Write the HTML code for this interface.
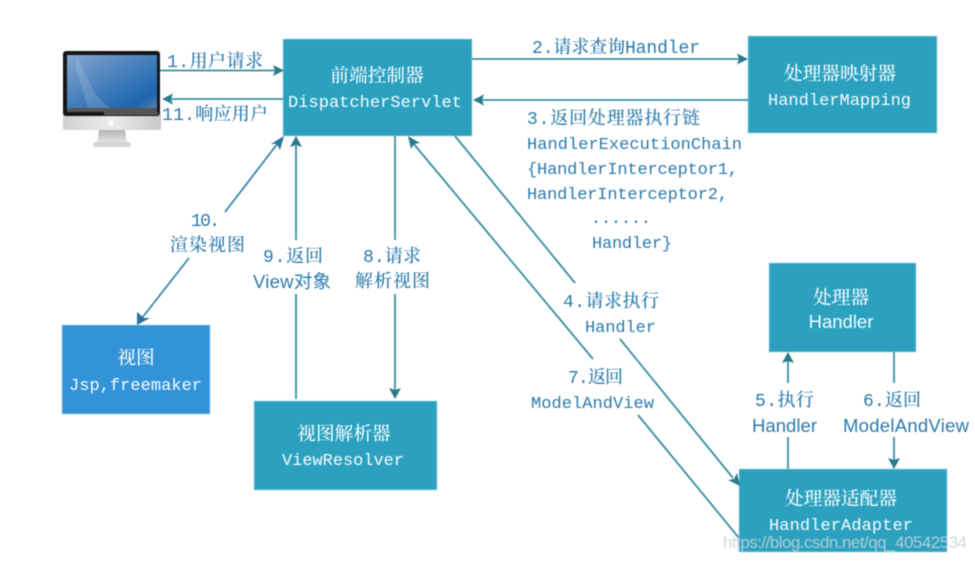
<!DOCTYPE html>
<html><head><meta charset="utf-8">
<style>
html,body{margin:0;padding:0;background:#fff;width:975px;height:562px;overflow:hidden}
svg{display:block;filter:blur(.55px)}
text{font-family:"Liberation Mono","Noto Serif CJK SC",monospace;font-size:17px}
.c{font-family:"Liberation Mono","Noto Serif CJK SC",serif;font-size:18px;font-weight:500}
.s{font-family:"Liberation Sans","Noto Sans CJK SC",sans-serif;font-size:18.5px}
.l{fill:#2a7aab}
.w{fill:#f6fcfe}
.ln{stroke:#3a8f9f;stroke-width:1.8;fill:none}
.b{fill:#2ba1bf;stroke:#a6d9e6;stroke-width:.8}
.ah{fill:#2a7a8c}
.ab{fill:#2a72a0}
</style></head><body>
<svg width="975" height="562" viewBox="0 0 975 562" xmlns="http://www.w3.org/2000/svg">
<defs>
<linearGradient id="scr" x1="0" y1="0" x2="1" y2="1"><stop offset="0" stop-color="#86a6cf"/><stop offset=".45" stop-color="#4b82bd"/><stop offset=".85" stop-color="#1a66b0"/><stop offset="1" stop-color="#5a7fa6"/></linearGradient>
<linearGradient id="sil" x1="0" y1="0" x2="1" y2="0"><stop offset="0" stop-color="#cfcfcf"/><stop offset=".5" stop-color="#ececec"/><stop offset="1" stop-color="#c8c8c8"/></linearGradient>
<linearGradient id="st" x1="0" y1="0" x2="0" y2="1"><stop offset="0" stop-color="#b5b5b5"/><stop offset="1" stop-color="#e4e4e4"/></linearGradient>
</defs>

<!-- monitor -->
<rect x="63" y="112" width="98" height="18" rx="2" fill="url(#sil)"/>
<rect x="63" y="51" width="97" height="65" rx="3" fill="#161616"/>
<rect x="67" y="55" width="90" height="53" fill="url(#scr)"/>
<rect x="67" y="108" width="90" height="4" fill="#555"/>
<path d="M104 112H158V115H104Z" fill="#555"/>
<path d="M76 55 L96 95 L110 108 L88 108 L76 70 Z" fill="#fff" opacity=".14"/>
<circle cx="111" cy="123" r="2.5" fill="#fff"/>
<path d="M99 130 H125 L127 143 H97 Z" fill="url(#st)"/>
<rect x="93" y="142" width="38" height="5" rx="2.5" fill="#d4d4d4"/>

<!-- boxes -->
<rect class="b" x="283" y="39" width="189" height="97"/>
<rect class="b" x="748" y="36" width="189" height="97"/>
<rect class="b" x="769" y="263" width="147" height="89"/>
<rect class="b" x="739" y="469" width="208" height="83"/>
<rect x="62" y="325" width="148" height="89" fill="#3393d8" stroke="#a6d3f0" stroke-width=".8"/>
<rect class="b" x="254" y="401" width="183" height="89"/>

<!-- connectors -->
<path class="ln" d="M160 70.500H276"/><path class="ah" d="M284 70.500 L273 65 L275 70.500 L273 76 Z"/>
<path class="ln" d="M283 99H170"/><path class="ah" d="M162 99 L173 93.500 L171 99 L173 104.500 Z"/>
<path class="ln" d="M472 59H740"/><path class="ah" d="M748 59 L737 53.500 L739 59 L737 64.500 Z"/>
<path class="ln" d="M748 100H481"/><path class="ah" d="M473 100 L484 94.500 L482 100 L484 105.500 Z"/>

<path d="M225 212 L278 143" stroke="#3a85aa" stroke-width="1.8" fill="none"/><path class="ab" d="M284 136 L271 144 L277 144 L280 150 Z"/>
<path d="M189 258 L142 318" stroke="#3a85aa" stroke-width="1.8" fill="none"/><path class="ab" d="M137 325 L150 318 L144 318 L137 312 Z"/>

<path class="ln" d="M296 145V240M296 294V399"/><path class="ah" d="M296 136 L290 147 L296 145 L302 147 Z"/>
<path class="ln" d="M395 136V240M395 294V391"/><path class="ah" d="M395 399 L389 388 L395 390 L401 388 Z"/>

<path class="ln" d="M413 143 L593 359M638 415 L739 538"/><path class="ah" d="M408 136 L411 149 L414 144 L420 143 Z"/>
<path class="ln" d="M455 136 L575 283M620 339 L733 478"/><path class="ah" d="M740 486 L737 473 L734 479 L728 480 Z"/>

<path class="ln" d="M788 469V437M788 383V361"/><path class="ah" d="M788 352 L782 363 L788 361 L794 363 Z"/>
<path class="ln" d="M894 352V383M894 437V460"/><path class="ah" d="M894 469 L888 458 L894 460 L900 458 Z"/>

<!-- box text -->
<text class="w c" x="377" y="82" text-anchor="middle" style="font-size:18.700px">前端控制器</text>
<text class="w" x="288" y="107" textLength="174">DispatcherServlet</text>
<text class="w c" x="840" y="80" text-anchor="middle" style="font-size:18.700px">处理器映射器</text>
<text class="w" x="768" y="105" textLength="143">HandlerMapping</text>
<text class="w c" x="841" y="304" text-anchor="middle" style="font-size:18.700px">处理器</text>
<text class="w s" x="841" y="328" text-anchor="middle">Handler</text>
<text class="w c" x="841" y="505" text-anchor="middle" style="font-size:18.700px">处理器适配器</text>
<text class="w" x="769" y="530" textLength="144">HandlerAdapter</text>
<text class="w c" x="136" y="364" text-anchor="middle" style="font-size:18.700px">视图</text>
<text class="w" x="69" y="390" textLength="133">Jsp,freemaker</text>
<text class="w c" x="344" y="440" text-anchor="middle" style="font-size:18.700px">视图解析器</text>
<text class="w" x="282" y="465" textLength="122">ViewResolver</text>

<!-- labels -->
<text class="l c" x="167" y="67" textLength="96">1.用户请求</text>
<text class="l c" x="162" y="120" textLength="106">11.响应用户</text>
<text class="l c" x="532" y="53" textLength="168">2.请求查询Handler</text>
<text class="l c" x="527" y="124" textLength="173">3.返回处理器执行链</text>
<text class="l" x="527" y="149" textLength="215">HandlerExecutionChain</text>
<text class="l" x="527" y="174" textLength="211">{HandlerInterceptor1,</text>
<text class="l" x="527" y="199" textLength="201">HandlerInterceptor2,</text>
<text class="l" x="591" y="223" textLength="60">......</text>
<text class="l" x="592" y="248" textLength="80">Handler}</text>
<text class="l c" x="563" y="307" textLength="96">4.请求执行</text>
<text class="l" x="585" y="332" textLength="71">Handler</text>
<text class="l c" x="568" y="383" textLength="55">7.返回</text>
<text class="l" x="531" y="408" textLength="123">ModelAndView</text>
<text class="l c" x="755" y="406" textLength="59">5.执行</text>
<text class="l s" x="752" y="432" textLength="65">Handler</text>
<text class="l c" x="863" y="406" textLength="58">6.返回</text>
<text class="l s" x="843" y="432" textLength="126">ModelAndView</text>
<text class="l c" x="191" y="226" textLength="29">10.</text>
<text class="l c" x="170" y="251" textLength="75">渲染视图</text>
<text class="l c" x="263" y="262" textLength="60">9.返回</text>
<text class="l s" x="253" y="288" textLength="78">View对象</text>
<text class="l c" x="363" y="262" textLength="58">8.请求</text>
<text class="l c" x="355" y="287" textLength="75">解析视图</text>

<!-- watermark -->
<text x="723" y="548" textLength="244" style="font-family:'Liberation Sans',sans-serif;font-size:17px;fill:#c9d3d8;opacity:.85">https://blog.csdn.net/qq_40542534</text>
</svg>
</body></html>
